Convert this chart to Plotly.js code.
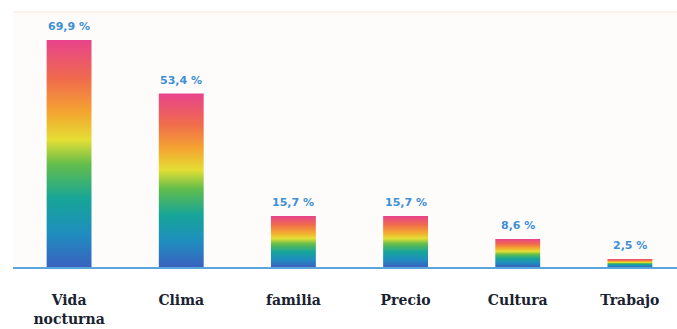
<!DOCTYPE html>
<html><head><meta charset="utf-8">
<script src="https://cdn.plot.ly/plotly-3.0.1.min.js"></script>
<style>html,body{margin:0;padding:0;background:#fff}#c{width:677px;height:329px}</style>
</head><body><div id="c"></div>
<script>
const categories = ["Vida<br>nocturna", "Clima", "familia", "Precio", "Cultura", "Trabajo"];
const values = [69.9, 53.4, 15.7, 15.7, 8.6, 2.5];
const valueLabels = ["69,9 %", "53,4 %", "15,7 %", "15,7 %", "8,6 %", "2,5 %"];

const rainbow = [[0,"#3a62c0"],[0.15,"#1e8ebe"],[0.3,"#17a598"],[0.45,"#62bd4c"],[0.56,"#e4de34"],[0.68,"#f4a530"],[0.83,"#f06a4e"],[1,"#e8438c"]];
const half = 0.2;
const traces = values.map((v, i) => ({
  type: "scatter",
  x: [i - half, i - half, i + half, i + half, i - half],
  y: [0, v, v, 0, 0],
  mode: "lines",
  line: {width: 0},
  fill: "toself",
  fillgradient: {type: "vertical", colorscale: rainbow},
  hoverinfo: "skip",
  showlegend: false
}));

const annotations = values.map((v, i) => ({
  x: i, y: v, xref: "x", yref: "y", text: valueLabels[i],
  showarrow: false, yanchor: "bottom", yshift: 5,
  font: {family: "DejaVu Sans", size: 11, color: "#3d8fd6", weight: "bold"}
}));

const layout = {
  width: 677, height: 329,
  margin: {l: 13, r: 0, t: 12, b: 62},
  paper_bgcolor: "#ffffff",
  plot_bgcolor: "#fdfcfa",
  xaxis: {
    range: [-0.5, 5.42], tickvals: [0,1,2,3,4,5], ticktext: categories,
    showgrid: false, zeroline: false, showline: true, linecolor: "#5aa5dc", linewidth: 1.5,
    ticks: "", ticklabelstandoff: 20, fixedrange: true,
    tickfont: {family: "DejaVu Serif", size: 14, color: "#1a2230", weight: "bold"}
  },
  yaxis: {range: [0, 78.5], showgrid: false, zeroline: false, showticklabels: false, ticks: "", fixedrange: true},
  shapes: [{type: "line", xref: "paper", yref: "paper", x0: 0, x1: 1, y0: 1, y1: 1, line: {color: "#fbe3dc", width: 1}}],
  annotations: annotations
};
Plotly.newPlot("c", traces, layout, {displayModeBar: false, staticPlot: true});
</script></body></html>
